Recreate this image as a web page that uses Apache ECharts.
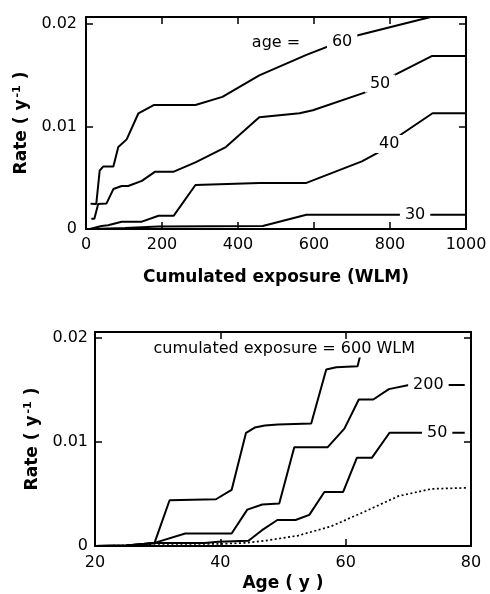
<!DOCTYPE html>
<html>
<head>
<meta charset="utf-8">
<script src="https://cdn.jsdelivr.net/npm/echarts@6/dist/echarts.min.js"></script>
<style>
html,body{margin:0;padding:0;background:#fff;}
#chart{width:490px;height:594px;}
</style>
</head>
<body>
<div id="chart"></div>
<script>
// ---- Top panel: rate vs cumulated exposure (WLM), by age ----
var age60 = [[12,0.00246],[27,0.00244],[36,0.0057],[45,0.0061],[72,0.0061],[85,0.0080],[107,0.00875],[138,0.0113],[178,0.0121],[288,0.0121],[359,0.0129],[456,0.0150],[580,0.0170],[708,0.01885],[907,0.0207]];
var age50 = [[14,0.0010],[22,0.0010],[32,0.00244],[54,0.0025],[72,0.0039],[94,0.0042],[111,0.0042],[147,0.0047],[182,0.0056],[231,0.0056],[288,0.0065],[368,0.0080],[456,0.0109],[562,0.0113],[597,0.0116],[735,0.01334],[810,0.0150],[911,0.0169],[1000,0.0169]];
var age40 = [[10,0],[41,0.0003],[58,0.00036],[94,0.0007],[147,0.00072],[191,0.0013],[231,0.0013],[288,0.0043],[456,0.0045],[580,0.0045],[726,0.0066],[766,0.0074],[832,0.0093],[912,0.0113],[1000,0.0113]];
var age30 = [[14,0],[103,0.0001],[191,0.00025],[465,0.0003],[580,0.0014],[898,0.0014],[1000,0.0014]];
var topLabels = [[500,0.0182,'age ='],[674,0.0183,'60'],[774,0.0142,'50'],[798,0.0083,'40'],[866,0.0014,'30']];
var topXTicks = {min:0, max:1000, interval:200};
var topYTicks = {min:0, max:0.0207, interval:0.01};

// ---- Bottom panel: rate vs age, by cumulated exposure ----
var wlm600 = [[20,0],[25,0.00005],[29.5,0.0003],[31.9,0.0044],[39.3,0.0045],[41.8,0.0054],[44.1,0.0109],[45.5,0.0114],[47.1,0.0116],[49.2,0.0117],[54.5,0.0118],[56.9,0.0170],[58.5,0.0172],[61.9,0.0173],[62.3,0.0183]];
var wlm200 = [[20,0],[25,0.00005],[29.5,0.0003],[34.4,0.0012],[41.8,0.0012],[44.3,0.0035],[46.7,0.0040],[49.4,0.0041],[51.8,0.0095],[57.1,0.0095],[59.8,0.0113],[62.1,0.0141],[64.4,0.0141],[66.9,0.0151],[70.1,0.0155],[79,0.0155]];
var wlm50 = [[20,0],[25,0.00005],[29.5,0.0003],[37.5,0.0003],[39.7,0.0004],[44.5,0.0005],[46.6,0.0015],[49.1,0.0025],[52.0,0.0025],[54.2,0.0030],[56.6,0.0052],[59.6,0.0052],[61.8,0.0085],[64.2,0.0085],[67.0,0.0109],[71.5,0.0109],[79,0.0109]];
var baseline = [[20,0],[25,0.00005],[29.5,0.0002],[40,0.0002],[44,0.0003],[47.1,0.0005],[52.4,0.0010],[57.7,0.0019],[63,0.0033],[68.4,0.0048],[73.7,0.0055],[79.5,0.0056]];
var botLabels = [[50.2,0.0190,'cumulated exposure = 600 WLM'],[73.2,0.0155,'200'],[74.6,0.0109,'50']];
var botXTicks = {min:20, max:80, interval:20};
var botYTicks = {min:0, max:0.0206, interval:0.01};

var FONT = 'DejaVu Sans';
function yFmt(v){
  var k = v/0.01;
  if (Math.abs(k - Math.round(k)) > 1e-6) return '';
  if (Math.round(k) === 0) return '0';
  return (Math.round(k)*0.01).toFixed(2);
}
function xFmt(t){ return function(v){ var k=(v-t.min)/t.interval; return Math.abs(k-Math.round(k))>1e-6 ? '' : String(v); }; }
var lineW = 2;
function axisBase(grid, t, pos, showLabel){
  return {
    type:'value', gridIndex:grid, position:pos, min:t.min, max:t.max, interval:t.interval,
    axisLine:{show:true, onZero:false, lineStyle:{color:'#000', width:lineW}},
    axisTick:{show:true, inside:true, length:7, lineStyle:{color:'#000', width:1.5}},
    splitLine:{show:false},
    axisLabel:{show:showLabel, color:'#000', fontFamily:FONT, fontSize:16}
  };
}
function lineSeries(data, xi, yi, dotted){
  return {
    type:'line', xAxisIndex:xi, yAxisIndex:yi, data:data, symbol:'none', z:2,
    lineStyle:{color:'#000', width: dotted?1.7:2, type: dotted?[2,2.5]:'solid', opacity:1},
    animation:false
  };
}
function labelSeries(labels, xi, yi, size){
  return {
    type:'scatter', xAxisIndex:xi, yAxisIndex:yi, symbolSize:0, z:10, animation:false,
    itemStyle:{opacity:1, color:'#000'},
    data: labels.map(function(l){ return {value:[l[0], l[1]], name:l[2]}; }),
    label:{show:true, position:'inside', formatter:function(p){return p.name;}, opacity:1,
      color:'#000', fontFamily:FONT, fontSize:size, backgroundColor:'#fff', padding:[1,5]},
    emphasis:{disabled:true}
  };
}
var yName = 'Rate ( y{sup|-1} )';
var nameStyle = {color:'#000', fontFamily:FONT, fontSize:17, fontWeight:'bold',
  rich:{sup:{fontFamily:FONT, fontSize:11, fontWeight:'bold', color:'#000', padding:[0,0,9,2]}}};

var x0 = axisBase(0, topXTicks, 'bottom', true);
x0.axisLabel.margin = 8; x0.axisLabel.formatter = xFmt(topXTicks);
x0.name = 'Cumulated exposure (WLM)'; x0.nameLocation = 'middle'; x0.nameGap = 40; x0.nameTextStyle = nameStyle;
var x1 = axisBase(0, topXTicks, 'top', false);
var y0 = axisBase(0, topYTicks, 'left', true);
y0.axisLabel.formatter = yFmt; y0.axisLabel.margin = 9;
y0.name = yName; y0.nameLocation = 'middle'; y0.nameGap = 49; y0.nameTextStyle = nameStyle;
var y1 = axisBase(0, topYTicks, 'right', false);

var x2 = axisBase(1, botXTicks, 'bottom', true);
x2.axisLabel.margin = 9; x2.axisLabel.formatter = xFmt(botXTicks);
x2.name = 'Age ( y )'; x2.nameLocation = 'middle'; x2.nameGap = 29; x2.nameTextStyle = nameStyle;
var x3 = axisBase(1, botXTicks, 'top', false);
var y2 = axisBase(1, botYTicks, 'left', true);
y2.axisLabel.formatter = yFmt; y2.axisLabel.margin = 7;
y2.name = yName; y2.nameLocation = 'middle'; y2.nameGap = 52; y2.nameTextStyle = nameStyle;
var y3 = axisBase(1, botYTicks, 'right', false);

var chart = echarts.init(document.getElementById('chart'), null, {renderer:'canvas'});
chart.setOption({
  backgroundColor:'#fff',
  animation:false,
  textStyle:{fontFamily:FONT},
  grid:[
    {left:86, top:17, width:380, height:212},
    {left:95, top:332, width:376, height:214}
  ],
  xAxis:[x0, x1, x2, x3],
  yAxis:[y0, y1, y2, y3],
  series:[
    lineSeries(age60,0,0,false),
    lineSeries(age50,0,0,false),
    lineSeries(age40,0,0,false),
    lineSeries(age30,0,0,false),
    labelSeries(topLabels,0,0,16),
    lineSeries(wlm600,2,2,false),
    lineSeries(wlm200,2,2,false),
    lineSeries(wlm50,2,2,false),
    lineSeries(baseline,2,2,true),
    labelSeries(botLabels,2,2,16)
  ]
});
</script>
</body>
</html>
